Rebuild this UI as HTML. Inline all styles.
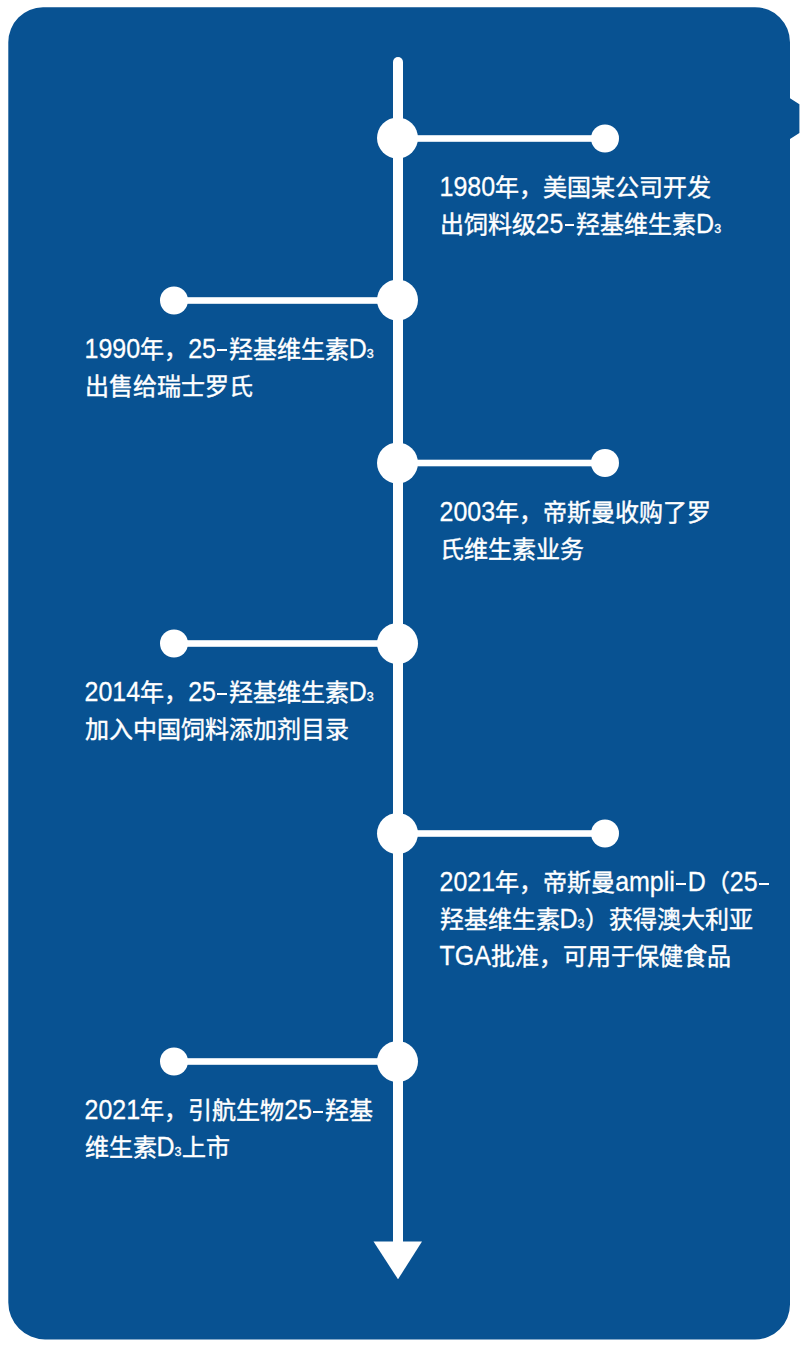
<!DOCTYPE html>
<html lang="zh-CN">
<head>
<meta charset="utf-8">
<style>
html,body{margin:0;padding:0;background:#fff;}
body{width:800px;height:1348px;position:relative;overflow:hidden;font-family:"Liberation Sans",sans-serif;}
svg{position:absolute;left:0;top:0;}
.t{position:absolute;color:#fff;font-size:24px;line-height:37px;white-space:nowrap;-webkit-text-stroke:0.42px #fff;}
.t .l{font-size:25px;display:inline-block;line-height:25px;transform:scaleY(1.07);transform-origin:0 21.16px;-webkit-text-stroke:0.25px #fff;}
.t .h{display:inline-block;width:9.5px;height:2.3px;background:#fff;margin:0 1.8px 0 1.5px;vertical-align:6.4px;}
.t sub{font-size:12.5px;line-height:0;vertical-align:baseline;-webkit-text-stroke:0.3px #fff;}
</style>
</head>
<body>
<svg width="800" height="1348" viewBox="0 0 800 1348">
  <path fill="#085292" d="M43 7.2 H755 A35 35 0 0 1 790 42.2 V98.3 L799.4 104.2 V133 L790 139 V1304.5 A35 35 0 0 1 755 1339.5 H45 A37 37 0 0 1 8.3 1302.5 V42.2 A35 35 0 0 1 43 7.2 Z"/>
  <g fill="#fff">
    <rect x="393" y="57" width="10" height="1190" rx="5"/>
    <polygon points="373.5,1241.5 422,1241.5 398,1279.3"/>
    <circle cx="397.5" cy="138" r="20.5"/>
    <circle cx="397.5" cy="300" r="20.5"/>
    <circle cx="397.5" cy="463" r="20.5"/>
    <circle cx="397.5" cy="643.5" r="20.5"/>
    <circle cx="397.5" cy="833.5" r="20.5"/>
    <circle cx="397.5" cy="1061.5" r="20.5"/>
    <rect x="397" y="135.20" width="208" height="6.6"/>
    <circle cx="605" cy="138.5" r="14"/>
    <rect x="174" y="297.20" width="224" height="6.6"/>
    <circle cx="174" cy="300.5" r="14"/>
    <rect x="397" y="459.70" width="208" height="6.6"/>
    <circle cx="605" cy="463" r="14"/>
    <rect x="174" y="640.20" width="224" height="6.6"/>
    <circle cx="174" cy="643.5" r="14"/>
    <rect x="397" y="830.20" width="208" height="6.6"/>
    <circle cx="605" cy="833.5" r="14"/>
    <rect x="174" y="1058.20" width="224" height="6.6"/>
    <circle cx="174" cy="1061.5" r="14"/>
  </g>
</svg>
<div class="t" style="left:439.5px;top:168.8px"><span class="l">1980</span>年，美国某公司开发<br>出饲料级<span class="l">25</span><i class="h"></i>羟基维生素<span class="l">D</span><sub>3</sub></div>
<div class="t" style="left:84.5px;top:330.8px"><span class="l">1990</span>年，<span class="l">25</span><i class="h"></i>羟基维生素<span class="l">D</span><sub>3</sub><br>出售给瑞士罗氏</div>
<div class="t" style="left:439.5px;top:493.8px"><span class="l">2003</span>年，帝斯曼收购了罗<br>氏维生素业务</div>
<div class="t" style="left:84.5px;top:674.3px"><span class="l">2014</span>年，<span class="l">25</span><i class="h"></i>羟基维生素<span class="l">D</span><sub>3</sub><br>加入中国饲料添加剂目录</div>
<div class="t" style="left:439.5px;top:864.3px"><span class="l">2021</span>年，帝斯曼<span class="l">ampli</span><i class="h"></i><span class="l">D</span>（<span class="l">25</span><i class="h"></i><br>羟基维生素<span class="l">D</span><sub>3</sub>）获得澳大利亚<br><span class="l">TGA</span>批准，可用于保健食品</div>
<div class="t" style="left:84.5px;top:1092.3px"><span class="l">2021</span>年，引航生物<span class="l">25</span><i class="h"></i>羟基<br>维生素<span class="l">D</span><sub>3</sub>上市</div>
</body>
</html>
